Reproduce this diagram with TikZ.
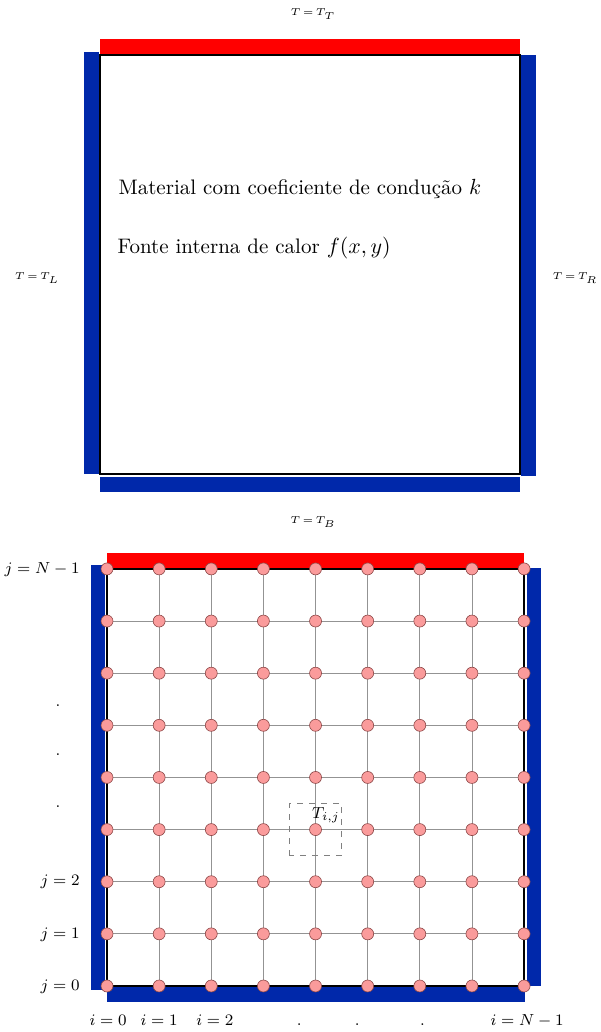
\documentclass[tikz,border=0pt]{standalone}
\usepackage{amsmath, amssymb}
\usepackage{tikz}
\usetikzlibrary{positioning, calc}
\usepackage{xcolor}

\definecolor{wallblue}{RGB}{0,40,170}
\definecolor{wallred}{RGB}{255,0,0}
\definecolor{nodepink}{RGB}{250,155,155}
\definecolor{nodeedge}{RGB}{140,70,70}

\tikzset{
  gridpt/.style={circle, fill=nodepink, draw=nodeedge, line width=0.3pt, minimum size=6pt, inner sep=0pt},
  gridline/.style={gray!85, line width=0.4pt},
  plate/.style={line width=1.1pt},
  bclabel/.style={font=\tiny, inner sep=0pt},
  idxlabel/.style={font=\footnotesize}
}

\begin{document}
\begin{tikzpicture}[x=25pt, y=25pt]
  \useasboundingbox (0,0) rectangle (12,20.64);
  % placa com as condicoes de contorno
  \fill[wallred] (2,19.56) rectangle (10.4,19.86);
  \fill[wallblue] (1.68,11.16) rectangle (1.98,19.6);
  \fill[wallblue] (10.42,11.12) rectangle (10.72,19.54);
  \fill[wallblue] (2,10.8) rectangle (10.4,11.1);
  \draw[plate] (2,11.16) rectangle (10.4,19.54);
  \node[bclabel] (tT) at (6.26,20.36) {$T\,{=}\,T_T$};
  \node[bclabel] (tL) at (0.74,15.08) {$T\,{=}\,T_L$};
  \node[bclabel] (tR) at (11.5,15.08) {$T\,{=}\,T_R$};
  \node[bclabel] (tB) at (6.26,10.2) {$T\,{=}\,T_B$};
  \node[anchor=base west, font=\fontsize{10.5}{12.6}\selectfont] (mat) at (2.23,16.74) {Material com coeficiente de condução $k$};
  \node[anchor=base west, font=\fontsize{10.5}{12.6}\selectfont] (src) at (2.21,15.57) {Fonte interna de calor $f(x,y)$};

  % malha de pontos
  \begin{scope}[shift={(2.14,0.92)}, scale=1.0425]
    \foreach \i in {0,...,8}
      \foreach \j in {0,...,8}
        \coordinate (p-\i-\j) at (\i,\j);
    \foreach \k in {1,...,7} {
      \draw[gridline] (p-\k-0) -- (p-\k-8);
      \draw[gridline] (p-0-\k) -- (p-8-\k);
    }
    \fill[wallred] (0,8.02) rectangle (8,8.31);
    \fill[wallblue] (-0.31,-0.08) rectangle (-0.04,8.08);
    \fill[wallblue] (8.06,0) rectangle (8.33,8.02);
    \fill[wallblue] (0,-0.31) rectangle (8.02,-0.02);
    \draw[plate] (p-0-0) rectangle (p-8-8);
    \draw[dashed, gray, line width=0.4pt] ($(p-4-3)+(-0.5,-0.5)$) rectangle ($(p-4-3)+(0.5,0.5)$);
    \foreach \i in {0,...,8}
      \foreach \j in {0,...,8}
        \node[gridpt] (n-\i-\j) at (p-\i-\j) {};
    \node[idxlabel] (tij) at ($(n-4-3)+(0.2,0.28)$) {$T_{i,j}$};
    % indices
    \node[idxlabel, anchor=base east] (jN) at (-0.39,7.92) {$j = N-1$};
    \foreach \j in {0,1,2}
      \node[idxlabel, anchor=base east] (j\j) at (-0.39,\j-0.08) {$j = \j$};
    \foreach \y [count=\c] in {5.37,4.43,3.45}
      \node[idxlabel] (vd\c) at (-0.94,\y) {.};
    \foreach \x/\t [count=\c] in {0.02/{i = 0}, 1.0/{i = 1}, 2.07/{i = 2}, 8.06/{i = N-1}}
      \node[idxlabel, anchor=base] (i\c) at (\x,-0.75) {$\t$};
    \foreach \x [count=\c] in {3.69,4.8,6.05}
      \node[idxlabel, anchor=base] (hd\c) at (\x,-0.75) {.};
  \end{scope}
\end{tikzpicture}
\end{document}
